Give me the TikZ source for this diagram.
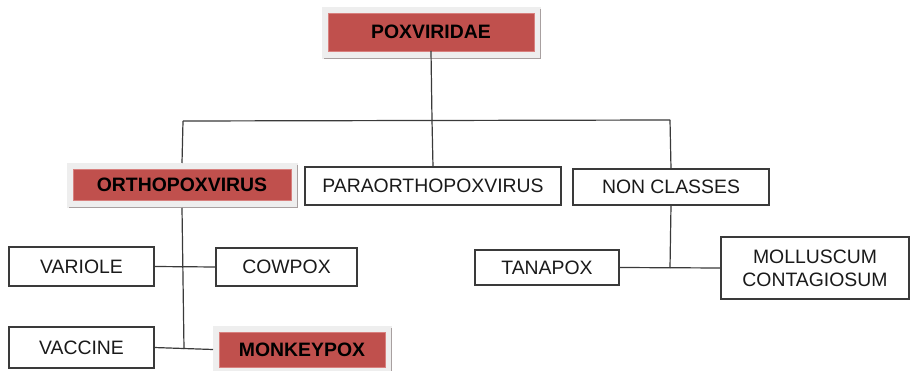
\documentclass[tikz,border=0pt]{standalone}
\usepackage{fontspec}
\setmainfont{Liberation Sans}
\usetikzlibrary{backgrounds}
\definecolor{boxred}{HTML}{C0504D}
\definecolor{redline}{HTML}{D8807E}
\definecolor{shadefill}{HTML}{EEEEEE}
\definecolor{shadeline}{HTML}{A8A0A0}
\definecolor{lineg}{HTML}{3A3A3A}
\definecolor{txt}{HTML}{1A1A1A}
\begin{document}
\begin{tikzpicture}[x=1pt,y=-1pt,
  every node/.style={font=\fontsize{19.4}{23}\selectfont, inner sep=0pt, outer sep=0pt},
  plainbox/.style={draw=lineg, line width=1.3pt, fill=white, text=txt, align=center},
  redbox/.style={draw=redline, line width=0.8pt, fill=boxred, text=black, font=\fontsize{19.4}{23}\selectfont\bfseries},
  conn/.style={draw=lineg, line width=1.2pt}]
\useasboundingbox (0,0) rectangle (910,371);

\node[redbox, minimum width=206pt, minimum height=38pt] (pox) at (431,32) {POXVIRIDAE};
\node[redbox, minimum width=218pt, minimum height=31pt] (ortho) at (182,184.5) {ORTHOPOXVIRUS};
\node[plainbox, minimum width=256pt, minimum height=38pt] (para) at (433,186) {PARAORTHOPOXVIRUS};
\node[plainbox, minimum width=196pt, minimum height=36pt] (non) at (671,187) {NON CLASSES};
\node[plainbox, minimum width=145pt, minimum height=39pt] (variole) at (81.5,266.5) {VARIOLE};
\node[plainbox, minimum width=141pt, minimum height=38pt] (cowpox) at (286.5,267) {COWPOX};
\node[plainbox, minimum width=145pt, minimum height=41pt] (vaccine) at (81.5,347.5) {VACCINE};
\node[redbox, minimum width=166pt, minimum height=35pt] (monkey) at (302,349.5) {MONKEYPOX};
\node[plainbox, minimum width=144pt, minimum height=35pt] (tanapox) at (547,267.5) {TANAPOX};
\node[plainbox, minimum width=188pt, minimum height=62pt] (mollusc) at (815,268) {MOLLUSCUM\\CONTAGIOSUM};

\begin{scope}[on background layer]
  \fill[white] (0,0) rectangle (910,371);
  \foreach \n in {pox,ortho,monkey}{
    \fill[shadefill] ([shift={(-6pt,6pt)}]\n.north west) rectangle ([shift={(7pt,-8pt)}]\n.south east);
    \draw[shadeline, line width=1pt] ([shift={(-4pt,-7.5pt)}]\n.south west) -- ([shift={(6.5pt,-7.5pt)}]\n.south east) -- ([shift={(6.5pt,4pt)}]\n.north east);
  }
\end{scope}

\coordinate (jtop) at (432,120);
\coordinate (jleft) at (183,121);
\coordinate (jright) at (670,120);
\coordinate (jortho) at (184,349);
\coordinate (jnon) at (670,268);

\path[conn] (pox.south) -- (jtop);
\path[conn] (jleft) -- (jright);
\path[conn] (jtop) -- (para.north);
\path[conn] (jleft) -- ([yshift=6pt]ortho.north);
\path[conn] (jright) -- (non.north);
\path[conn] ([yshift=-8pt]ortho.south) -- (jortho);
\path[conn] (variole.east) -- (cowpox.west);
\path[conn] (vaccine.east) -- ([xshift=-6pt]monkey.west);
\path[conn] (non.south) -- (jnon);
\path[conn] (tanapox.east) -- (mollusc.west);
\end{tikzpicture}
\end{document}
